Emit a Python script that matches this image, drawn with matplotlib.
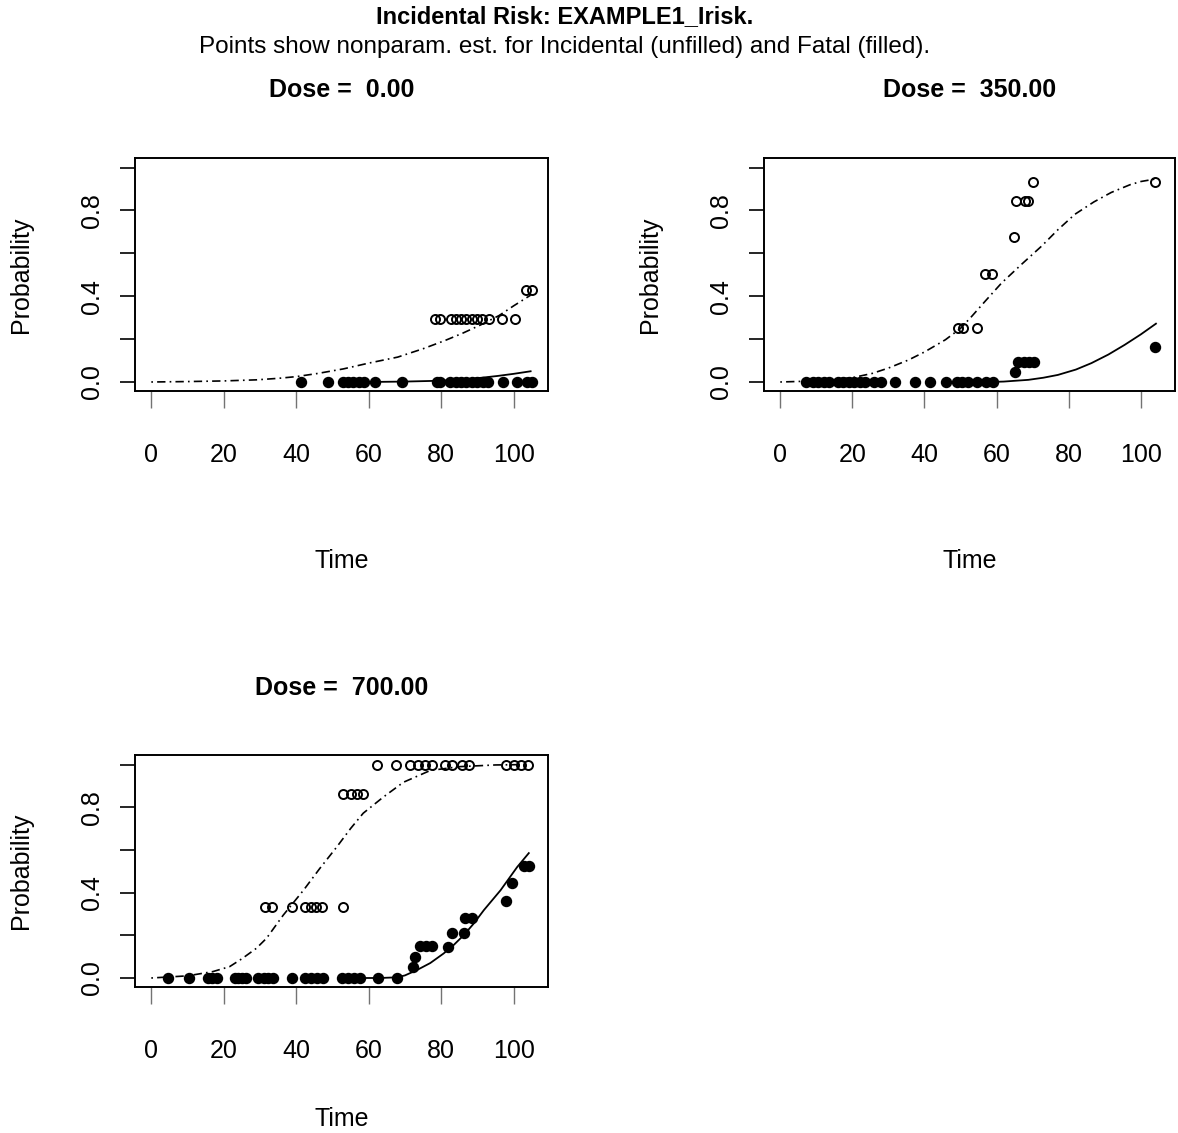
import matplotlib
matplotlib.use('Agg')
import matplotlib.pyplot as plt

plt.rcParams['font.family'] = ['Liberation Sans', 'DejaVu Sans']

# ---- Datos ----
# Dose = 0.00
d0_inc_t = [78.3, 79.6, 82.6, 84.2, 85.6, 87.0, 88.4, 90.0, 91.4, 93.2, 96.9, 100.5, 103.4, 105.0]
d0_inc_p = [0.295] * 12 + [0.43, 0.43]
d0_fat_t = [41.4, 48.9, 52.8, 54.3, 55.8, 57.3, 58.8, 61.8, 69.2, 78.8, 79.8, 82.5, 84.0,
            85.5, 87.0, 88.5, 90.0, 91.5, 93.0, 97.2, 101.0, 103.8, 105.2]
d0_fat_p = [0.0] * 23
d0_curve_inc_t = [0, 10, 20, 29, 35, 40, 46, 53, 60, 68, 75, 81, 86, 91, 96, 100, 104.7]
d0_curve_inc_p = [0, 0.002, 0.005, 0.01, 0.017, 0.025, 0.04, 0.061, 0.088, 0.116, 0.155,
                  0.193, 0.228, 0.267, 0.31, 0.355, 0.405]
d0_curve_fat_t = [52, 60, 70, 80, 88, 95.5, 100, 104.7]
d0_curve_fat_p = [0, 0, 0.002, 0.006, 0.014, 0.028, 0.038, 0.05]

# Dose = 350.00
d350_inc_t = [49.4, 50.8, 54.5, 56.8, 58.6, 64.8, 65.3, 67.9, 68.8, 70.2, 104.0]
d350_inc_p = [0.25, 0.25, 0.25, 0.505, 0.505, 0.675, 0.843, 0.843, 0.843, 0.935, 0.935]
d350_fat_t = [7.1, 9.0, 10.5, 12.0, 13.5, 16.0, 17.5, 19.0, 20.5, 22.0, 23.5, 26.0, 28.0,
              31.8, 37.3, 41.6, 45.9, 49.0, 50.5, 52.0, 54.5, 57.2, 58.9,
              65.1, 66.0, 67.5, 69.0, 70.5, 104.0]
d350_fat_p = [0.0] * 23 + [0.045, 0.095, 0.095, 0.095, 0.095, 0.165]
d350_curve_inc_t = [0, 10, 20, 25.5, 30, 35.6, 40, 45.8, 50, 53.1, 57, 61.4, 67, 72.5, 77,
                    81.7, 87, 91.8, 97, 100, 103.8]
d350_curve_inc_p = [0, 0.005, 0.02, 0.04, 0.065, 0.103, 0.14, 0.197, 0.25, 0.306, 0.38,
                    0.462, 0.55, 0.634, 0.71, 0.782, 0.84, 0.884, 0.92, 0.935, 0.946]
d350_curve_fat_t = [58, 62, 68.8, 73, 77, 82, 86.3, 91, 95.5, 100, 104.2]
d350_curve_fat_p = [0, 0.002, 0.01, 0.02, 0.033, 0.058, 0.088, 0.128, 0.173, 0.222, 0.272]

# Dose = 700.00
d700_inc_t = [31.3, 33.4, 38.7, 42.5, 44.0, 45.5, 47.0, 53.0,
              53.0, 55.0, 56.8, 58.5,
              62.4, 67.5, 71.5, 73.5, 75.5, 77.5, 81.2, 83.0, 85.8, 87.6, 98.0, 100.0, 102.0, 104.0]
d700_inc_p = [0.333] * 8 + [0.863] * 4 + [1.0] * 14
d700_fat_t = [4.5, 10.5, 15.6, 16.8, 18.0, 23.0, 24.0, 25.0, 26.2, 29.5, 31.0, 32.3, 33.6,
              38.9, 42.4, 44.0, 45.7, 47.4, 52.5, 54.2, 55.9, 57.6, 62.7, 67.8,
              72.2, 72.7, 74.2, 75.8, 77.5, 81.9, 83.0, 86.2, 86.7, 88.6, 97.8, 99.6, 102.9, 104.3]
d700_fat_p = [0.0] * 24 + [0.05, 0.1, 0.15, 0.15, 0.15, 0.143, 0.209, 0.209, 0.279, 0.279,
                           0.361, 0.445, 0.523, 0.523]
d700_curve_inc_t = [0, 10, 17, 21.6, 25, 29, 31.8, 36.4, 42, 46.5, 51.2, 55, 58.5, 64, 69.6,
                    77, 85, 95, 104]
d700_curve_inc_p = [0, 0.01, 0.03, 0.053, 0.09, 0.139, 0.186, 0.294, 0.411, 0.513, 0.614,
                    0.7, 0.772, 0.847, 0.917, 0.972, 0.99, 0.998, 1.0]
d700_curve_fat_t = [58, 63, 67.8, 70, 73.3, 77, 80.7, 83.5, 86.2, 89, 91.8, 96.4, 101, 104.2]
d700_curve_fat_p = [0, 0, 0.003, 0.012, 0.037, 0.07, 0.115, 0.155, 0.2, 0.255, 0.318, 0.411,
                    0.52, 0.585]

panels = [
    ('Dose =  0.00', d0_inc_t, d0_inc_p, d0_fat_t, d0_fat_p,
     d0_curve_inc_t, d0_curve_inc_p, d0_curve_fat_t, d0_curve_fat_p),
    ('Dose =  350.00', d350_inc_t, d350_inc_p, d350_fat_t, d350_fat_p,
     d350_curve_inc_t, d350_curve_inc_p, d350_curve_fat_t, d350_curve_fat_p),
    ('Dose =  700.00', d700_inc_t, d700_inc_p, d700_fat_t, d700_fat_p,
     d700_curve_inc_t, d700_curve_inc_p, d700_curve_fat_t, d700_curve_fat_p),
]

# posiciones de los paneles (fraccion de figura) y posicion de la etiqueta "Time"
rects = [[0.1146, 0.6549, 0.3506, 0.2057],
         [0.6486, 0.6549, 0.3489, 0.2057],
         [0.1146, 0.1289, 0.3506, 0.2048]]
time_y = [-0.678, -0.678, -0.517]

fig = plt.figure(figsize=(11.78, 11.33), dpi=100)

for rect, ty, pan in zip(rects, time_y, panels):
    title, it, ip, ft, fp, cit, cip, cft, cfp = pan
    ax = fig.add_axes(rect)

    # curvas del modelo
    ax.plot(cit, cip, color='black', lw=1.2, linestyle=(0, (1, 2.5, 5, 2.5)))
    ax.plot(cft, cfp, color='black', lw=1.3)

    # puntos no parametricos
    ax.plot(it, ip, 'o', mfc='none', mec='black', ms=6.5, mew=1.4, linestyle='none')
    ax.plot(ft, fp, 'o', color='black', ms=7.2, linestyle='none')

    ax.set_xlim(-4.5, 109.5)
    ax.set_ylim(-0.042, 1.045)

    ax.set_xticks([0, 20, 40, 60, 80, 100])
    ax.set_yticks([0.0, 0.4, 0.8])
    ax.set_yticklabels(['0.0', '0.4', '0.8'], rotation=90, va='center')
    ax.set_yticks([0.2, 0.6, 1.0], minor=True)

    ax.tick_params(axis='x', direction='out', length=12.5, width=1, color='0.45',
                   labelsize=18, pad=25)
    ax.tick_params(axis='y', which='both', direction='out', length=11, width=1.2,
                   color='black', labelsize=18, pad=11)
    for s in ax.spines.values():
        s.set_linewidth(1.4)

    ax.set_xlabel('Time', fontsize=18)
    ax.xaxis.set_label_coords(0.5, ty)
    ax.set_ylabel('Probability', fontsize=18)
    ax.yaxis.set_label_coords(-0.248, 0.5)

    ax.text(0.5, 1.29, title, transform=ax.transAxes, ha='center', va='center',
            fontsize=18, fontweight='bold')

fig.text(0.479, 0.985, 'Incidental Risk: EXAMPLE1_Irisk.', ha='center', va='center',
         fontsize=17, fontweight='bold')
fig.text(0.479, 0.9585, 'Points show nonparam. est. for Incidental (unfilled) and Fatal (filled).',
         ha='center', va='center', fontsize=17.5)

plt.savefig('out.png', dpi=100)
